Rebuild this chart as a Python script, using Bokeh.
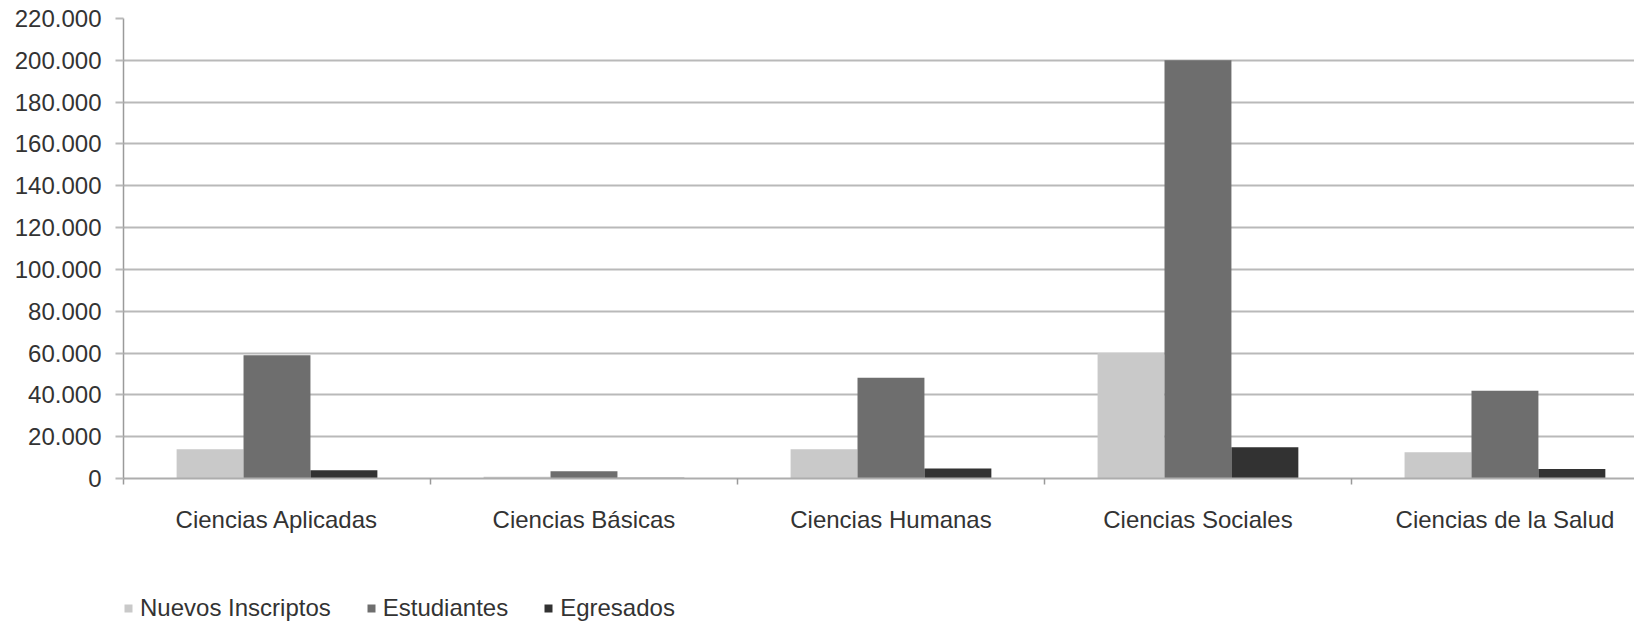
import numpy as np
from bokeh.plotting import figure
from bokeh.layouts import column
from bokeh.models import Range1d, FixedTicker, Legend, LegendItem, ColumnDataSource
from bokeh.embed import file_html
from bokeh.resources import INLINE

categories = ["Ciencias Aplicadas", "Ciencias Básicas", "Ciencias Humanas",
              "Ciencias Sociales", "Ciencias de la Salud"]
series_names = ["Nuevos Inscriptos", "Estudiantes", "Egresados"]
nuevos = [14000, 800, 14000, 60000, 12500]
estudiantes = [59000, 3500, 48200, 200000, 42000]
egresados = [4000, 300, 4800, 15000, 4500]
y_ticks = [0, 20000, 40000, 60000, 80000, 100000, 120000, 140000, 160000,
           180000, 200000, 220000]
y_tick_labels = ["0", "20.000", "40.000", "60.000", "80.000", "100.000", "120.000",
                 "140.000", "160.000", "180.000", "200.000", "220.000"]

colors = ["#c9c9c9", "#6e6e6e", "#323232"]
FONT = "Liberation Sans"
FS = "24px"

n = len(categories)
centers = np.arange(n) + 0.5
bar_w = 0.218
offsets = [-bar_w, 0.0, bar_w]

p = figure(width=1634, height=540, output_backend="svg", toolbar_location=None,
           x_range=Range1d(0, 4.922), y_range=Range1d(0, 220000),
           min_border_left=123, min_border_right=0, min_border_top=18,
           min_border_bottom=62)
p.outline_line_color = None
p.background_fill_color = "white"
p.border_fill_color = "white"

sources = []
for vals, off, col in zip([nuevos, estudiantes, egresados], offsets, colors):
    src = ColumnDataSource(dict(x=centers + off, top=vals))
    sources.append(src)
    p.vbar(x="x", top="top", width=bar_w, bottom=0, source=src,
           fill_color=col, line_color=None)

# grid
p.xgrid.grid_line_color = None
p.ygrid.grid_line_color = "#b9b9b9"
p.ygrid.grid_line_width = 2
p.ygrid.ticker = FixedTicker(ticks=y_ticks)

# y axis
p.yaxis.ticker = FixedTicker(ticks=y_ticks)
p.yaxis.major_label_overrides = {t: l for t, l in zip(y_ticks, y_tick_labels)}
p.yaxis.axis_line_color = "#9a9a9a"
p.yaxis.axis_line_width = 1.5
p.yaxis.major_tick_out = 8
p.yaxis.major_tick_in = 0
p.yaxis.major_tick_line_color = "#b9b9b9"
p.yaxis.major_tick_line_width = 2
p.yaxis.minor_tick_line_color = None
p.yaxis.major_label_standoff = 14
p.yaxis.major_label_text_font = FONT
p.yaxis.major_label_text_font_size = FS
p.yaxis.major_label_text_color = "#333333"

# x axis
p.xaxis.ticker = FixedTicker(ticks=list(centers), minor_ticks=list(np.arange(n + 1)))
p.xaxis.major_label_overrides = {float(c): cat for c, cat in zip(centers, categories)}
p.xaxis.axis_line_color = "#adadad"
p.xaxis.axis_line_width = 2
p.xaxis.major_tick_line_color = None
p.xaxis.major_tick_out = 0
p.xaxis.major_tick_in = 0
p.xaxis.minor_tick_out = 6
p.xaxis.minor_tick_in = 0
p.xaxis.minor_tick_line_color = "#9a9a9a"
p.xaxis.minor_tick_line_width = 1.5
p.xaxis.major_label_standoff = 21
p.xaxis.major_label_text_font = FONT
p.xaxis.major_label_text_font_size = FS
p.xaxis.major_label_text_color = "#333333"

# legend strip below the chart
lg = figure(width=1634, height=84, output_backend="svg", toolbar_location=None,
            x_range=Range1d(0, 1), y_range=Range1d(0, 1),
            x_axis_location=None, y_axis_location=None,
            min_border_left=0, min_border_right=0, min_border_top=0,
            min_border_bottom=0)
lg.outline_line_color = None
lg.grid.visible = False
lg.background_fill_color = "white"
lg.border_fill_color = "white"

leg_renderers = []
for src, col in zip(sources, colors):
    r = lg.vbar(x="x", top="top", width=bar_w, bottom=0, source=src,
                fill_color=col, line_color=None, visible=False)
    leg_renderers.append(r)

legend = Legend(items=[LegendItem(label=nm, renderers=[r])
                       for nm, r in zip(series_names, leg_renderers)],
                orientation="horizontal", location=(0, 2))
legend.border_line_color = None
legend.background_fill_alpha = 0
legend.inactive_fill_alpha = 0
legend.padding = 0
legend.margin = 0
legend.spacing = 35
legend.glyph_width = 10
legend.glyph_height = 10
legend.label_standoff = 7
legend.label_text_font = FONT
legend.label_text_font_size = FS
legend.label_text_color = "#333333"
lg.add_layout(legend, "center")

open("out.html", "w").write(file_html(column(p, lg, spacing=0), INLINE))
